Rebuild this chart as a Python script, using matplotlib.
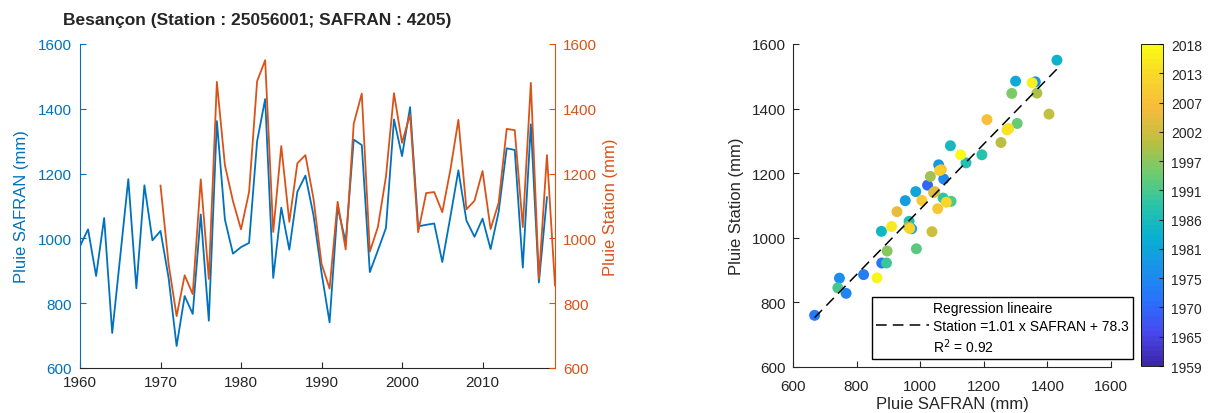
import numpy as np
import matplotlib
matplotlib.use('Agg')
import matplotlib.pyplot as plt
from matplotlib.colors import LinearSegmentedColormap
from matplotlib.lines import Line2D

plt.rcParams['font.family'] = ['Liberation Sans', 'DejaVu Sans']

# annual rainfall (mm)
safran_years = np.arange(1960, 2019)
safran_mm = [976, 1028, 884, 1063, 708, 945, 1183, 846, 1164, 994,
             1023, 879, 668, 822, 767, 1074, 746, 1362, 1058, 953,
             973, 986, 1300, 1430, 878, 1095, 965, 1144, 1194, 1072,
             894, 741, 1097, 988, 1305, 1288, 896, 963, 1032, 1367,
             1254, 1405, 1037, 1042, 1046, 927, 1066, 1210, 1055, 1005,
             1061, 967, 1082, 1278, 1273, 910, 1352, 864, 1127]

station_years = np.arange(1970, 2020)
station_mm = [1163, 922, 760, 886, 828, 1182, 875, 1483, 1226, 1115,
              1028, 1143, 1485, 1550, 1020, 1285, 1051, 1232, 1257, 1123,
              922, 845, 1113, 966, 1354, 1447, 959, 1035, 1190, 1448,
              1295, 1383, 1019, 1140, 1143, 1081, 1211, 1366, 1090, 1116,
              1208, 1029, 1110, 1338, 1334, 1035, 1480, 876, 1257, 855]

# linear fit Station vs SAFRAN
reg_slope = 1.01
reg_intercept = 78.3
reg_r2 = 0.92

rain_ticks = [600, 800, 1000, 1200, 1400, 1600]
year_ticks = [1960, 1970, 1980, 1990, 2000, 2010]
cbar_labels = ['1959', '1965', '1970', '1975', '1981', '1986',
               '1991', '1997', '2002', '2007', '2013', '2018']

BLUE = '#0072BD'
ORANGE = '#D95319'
DARK = '#262626'

# parula-like colormap
parula = LinearSegmentedColormap.from_list(
    'parula',
    [(0.242, 0.150, 0.660), (0.280, 0.285, 0.937), (0.159, 0.447, 0.989),
     (0.100, 0.575, 0.915), (0.030, 0.693, 0.817), (0.165, 0.768, 0.659),
     (0.428, 0.798, 0.439), (0.733, 0.750, 0.256), (0.964, 0.733, 0.235),
     (0.972, 0.833, 0.170), (0.977, 0.984, 0.081)], N=64)

W, H = 1209, 414
fig = plt.figure(figsize=(W / 100, H / 100), dpi=100)

# --- time series, two y axes ---
ax1 = fig.add_axes([80 / W, (H - 369) / H, 475 / W, 324 / H])
ax1.plot(safran_years, safran_mm, color=BLUE, lw=1.3)
ax1.set_xlim(1960, 2019)
ax1.set_ylim(600, 1600)
ax1.set_xticks(year_ticks)
ax1.set_yticks(rain_ticks)

ax2 = ax1.twinx()
ax2.plot(station_years, station_mm, color=ORANGE, lw=1.3)
ax2.set_ylim(600, 1600)
ax2.set_yticks(rain_ticks)

for s in ['top', 'right']:
    ax1.spines[s].set_visible(False)
for s in ['top', 'left', 'bottom']:
    ax2.spines[s].set_visible(False)
ax1.spines['left'].set_color(BLUE)
ax1.spines['bottom'].set_color(DARK)
ax2.spines['right'].set_color(ORANGE)

ax1.tick_params(axis='x', direction='in', length=4, colors=DARK,
                labelsize=11, pad=5)
ax1.tick_params(axis='y', direction='in', length=4, colors=BLUE,
                labelsize=11, pad=6)
ax2.tick_params(axis='y', direction='in', length=4, colors=ORANGE,
                labelsize=11, pad=6)
ax1.set_ylabel('Pluie SAFRAN (mm)', color=BLUE, fontsize=12, labelpad=6)
ax2.set_ylabel('Pluie Station (mm)', color=ORANGE, fontsize=12, labelpad=4)

fig.text(257 / W, 1 - 20 / H, 'Besançon (Station : 25056001; SAFRAN : 4205)',
         ha='center', va='center', fontsize=12.5, fontweight='bold',
         color=DARK)

# --- scatter Station vs SAFRAN coloured by year ---
safran_common = np.array(safran_mm[10:])
station_common = np.array(station_mm[:len(safran_common)])
years_common = safran_years[10:]

ax3 = fig.add_axes([793 / W, (H - 368) / H, 318 / W, 323 / H])
sc = ax3.scatter(safran_common, station_common, c=years_common, cmap=parula,
                 vmin=1959, vmax=2018, s=62, edgecolors='none', zorder=2)
xs = np.array([safran_common.min(), safran_common.max()])
fit_line, = ax3.plot(xs, reg_slope * xs + reg_intercept, color='black',
                     lw=1.1, ls=(0, (7, 4)), zorder=3)
ax3.set_xlim(600, 1600)
ax3.set_ylim(600, 1600)
ax3.set_xticks(rain_ticks)
ax3.set_yticks(rain_ticks)
for s in ['top', 'right']:
    ax3.spines[s].set_visible(False)
for s in ['left', 'bottom']:
    ax3.spines[s].set_color(DARK)
ax3.tick_params(axis='x', direction='in', length=4, colors=DARK,
                labelsize=11, pad=9)
ax3.tick_params(axis='y', direction='in', length=4, colors=DARK,
                labelsize=11, pad=5)
ax3.set_xlabel('Pluie SAFRAN (mm)', fontsize=12, color=DARK, labelpad=2)
ax3.set_ylabel('Pluie Station (mm)', fontsize=12, color=DARK, labelpad=6)

blank = Line2D([], [], color='none')
leg = ax3.legend([blank, fit_line, blank],
                 ['Regression lineaire',
                  f'Station ={reg_slope:.2f} x SAFRAN + {reg_intercept:.1f}',
                  f'R$^2$ = {reg_r2:.2f}'],
                 loc='upper left', bbox_to_anchor=(872 / W, 1 - 298 / H),
                 bbox_transform=fig.transFigure, borderaxespad=0,
                 fontsize=10, handlelength=3.8, handletextpad=0.3,
                 labelspacing=0.25, borderpad=0.3, fancybox=False,
                 framealpha=1, edgecolor='black')
leg.get_frame().set_linewidth(1.0)

cax = fig.add_axes([1141 / W, (H - 367) / H, 22 / W, 322 / H])
cb = fig.colorbar(sc, cax=cax)
cb.set_ticks(np.linspace(1959, 2018, len(cbar_labels)))
cb.set_ticklabels(cbar_labels)
cb.ax.tick_params(direction='in', length=3, labelsize=10, pad=6,
                  colors=DARK)
cb.outline.set_linewidth(0.6)

fig.savefig('out.png', dpi=100, facecolor='white')
